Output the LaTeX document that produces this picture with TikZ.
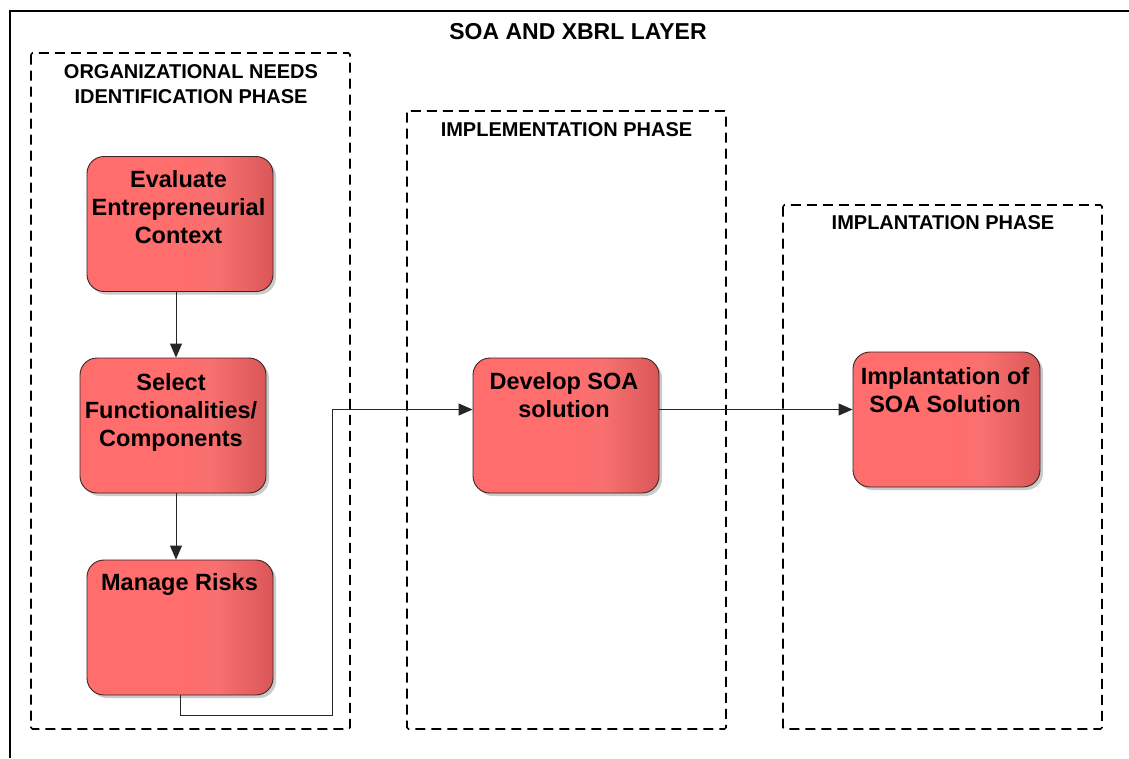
\documentclass[tikz,border=0pt]{standalone}
\usepackage{fontspec}
\setmainfont{Liberation Sans}
\usetikzlibrary{arrows.meta,shadows,calc}
\definecolor{boxL}{HTML}{FF6D6D}
\definecolor{boxM}{HTML}{F87070}
\definecolor{boxR}{HTML}{DA5757}
\definecolor{boxEdge}{HTML}{3A2424}
\pgfdeclarehorizontalshading{boxshade}{100bp}{color(0bp)=(boxL); color(25bp)=(boxL); color(52bp)=(boxL); color(60bp)=(boxM); color(75bp)=(boxR); color(100bp)=(boxR)}
\begin{document}
\begin{tikzpicture}[x=1pt,y=-1pt,
  stepbox/.style={draw=boxEdge, line width=0.9pt, rounded corners=17pt, shading=boxshade,
    drop shadow={shadow xshift=3pt, shadow yshift=-3pt, opacity=0.35, fill=black!60},
    minimum width=186pt, minimum height=135pt, inner sep=0pt},
  steptext/.style={anchor=north, inner sep=0pt, align=center,
    font=\fontsize{23.5}{28}\selectfont\bfseries},
  phasebox/.style={draw=black, line width=1.6pt, dash pattern=on 10pt off 6pt, rounded corners=1.5pt},
  phasetext/.style={anchor=north, inner sep=0pt, align=center,
    font=\fontsize{20}{24.5}\selectfont\bfseries},
  conn/.style={draw=black!85, line width=0.9pt},
  arr/.style={conn, -{Triangle[length=14pt,width=12pt]}}
]
\useasboundingbox (0,0) rectangle (1129,758);
% outer layer frame
\draw[line width=2pt] (10,758) -- (10,11) -- (1129,11);
\node[inner sep=0pt, font=\fontsize{23}{27.6}\selectfont\bfseries] (title) at (578,31.5) {SOA AND XBRL LAYER};
% phase boxes
\draw[phasebox] (31,53) rectangle (350,729);
\draw[phasebox] (407,111) rectangle (726,729);
\draw[phasebox] (783,205) rectangle (1102,729);
\node[phasetext] (p1) at (191,61.5) {\strut ORGANIZATIONAL NEEDS\\IDENTIFICATION PHASE};
\node[phasetext] (p2) at (566.5,119) {\strut IMPLEMENTATION PHASE};
\node[phasetext] (p3) at (943,212) {\strut IMPLANTATION PHASE};
% step boxes
\node[stepbox] (ev) at (180,224) {};
\node[stepbox] (sel) at (173,425.5) {};
\node[stepbox] (mr) at (180,627.5) {};
\node[stepbox] (dev) at (566,425.5) {};
\node[stepbox, minimum width=187pt] (imp) at (946.5,419.5) {};
\node[steptext] (evt) at (178.5,168) {\strut Evaluate\\Entrepreneurial\\Context};
\node[steptext] (selt) at (171,370.3) {\strut Select\\Functionalities/\\Components};
\node[steptext] (mrt) at (179.5,570.3) {\strut Manage Risks};
\node[steptext] (devt) at (564,369.3) {\strut Develop SOA\\solution};
\node[steptext] (impt) at (945,364.3) {\strut Implantation of\\SOA Solution};
% connectors
\coordinate (vx) at (176,0);
\coordinate (k1) at (332,715);
\coordinate (k2) at (332,409.5);
\draw[arr] (ev.south -| vx) -- (sel.north -| vx);
\draw[arr] (sel.south -| vx) -- (mr.north -| vx);
\draw[arr] (mr.south) |- (k1) -- (k2) -- (dev.west |- k2);
\draw[arr] (dev.east |- k2) -- (imp.west |- k2);
\end{tikzpicture}
\end{document}
